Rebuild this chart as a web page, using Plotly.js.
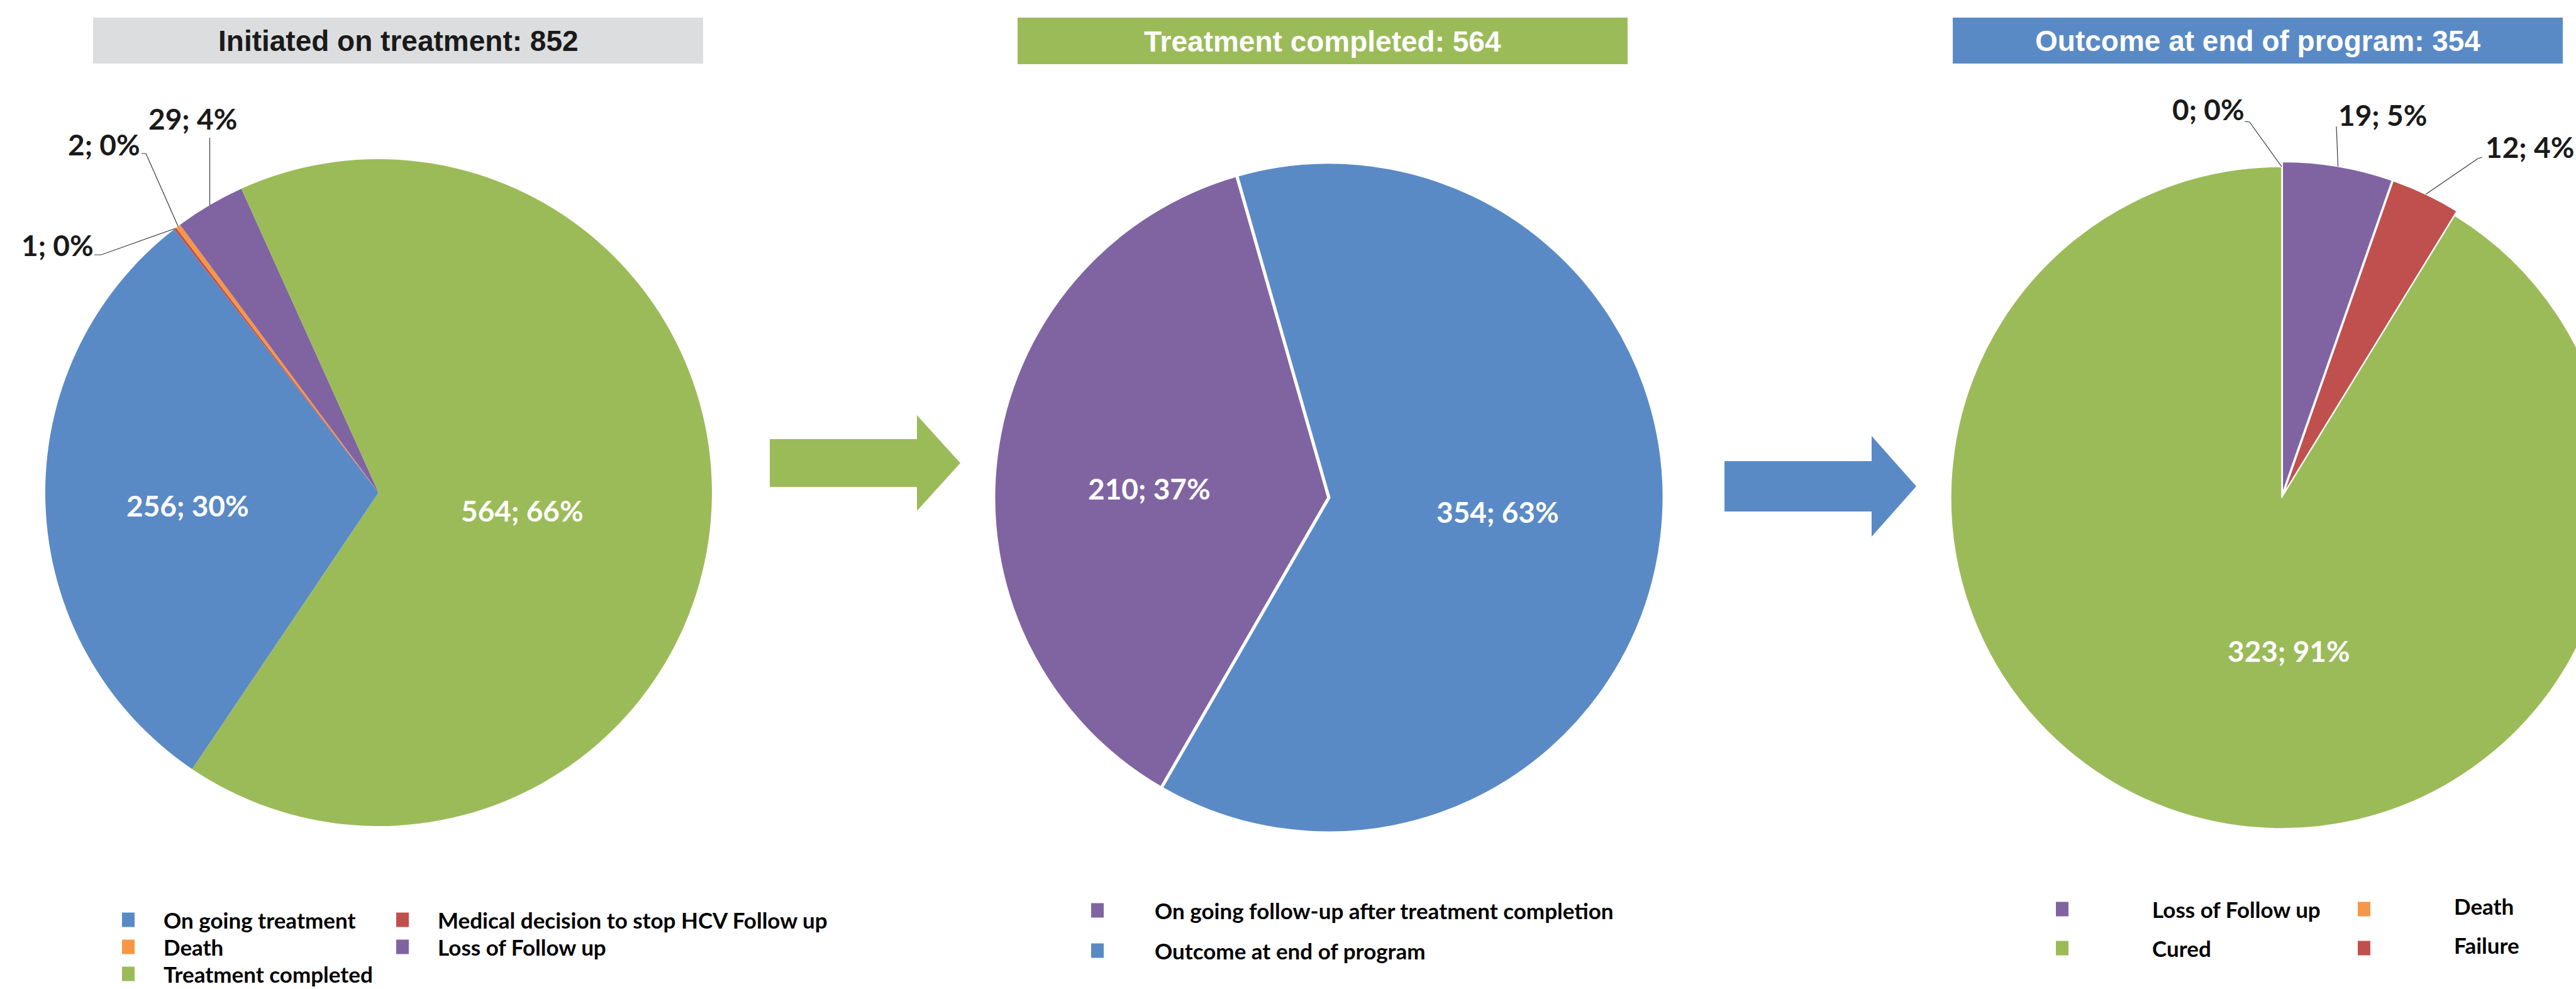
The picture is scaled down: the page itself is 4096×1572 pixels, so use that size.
<!DOCTYPE html>
<html>
<head>
<meta charset="utf-8">
<script src="https://cdn.plot.ly/plotly-3.0.1.min.js"></script>
<style>
  html, body { margin: 0; padding: 0; background: #ffffff; overflow: hidden; }
  #frame { width: 4096px; height: 1572px; overflow: hidden; position: relative; }
  #chart { width: 4200px; height: 1572px; }
</style>
</head>
<body>
<div id="frame"><div id="chart"></div></div>
<script>
// ---- Data ---------------------------------------------------------------
const stageTitles = ['Initiated on treatment', 'Treatment completed', 'Outcome at end of program'];

// Stage 1: every patient who started treatment
const startLabels = ['On going treatment', 'Medical decision to stop HCV Follow up', 'Death', 'Loss of Follow up', 'Treatment completed'];
const startValues = [256, 1, 2, 29, 564];
const startShares = [30, 0, 0, 4, 66];

// Stage 2: patients who completed treatment
const completedLabels = ['On going follow-up after treatment completion', 'Outcome at end of program'];
const completedValues = [210, 354];
const completedShares = [37, 63];

// Stage 3: outcome at the end of the program
const outcomeLabels = ['Death', 'Loss of Follow up', 'Failure', 'Cured'];
const outcomeValues = [0, 19, 12, 323];
const outcomeShares = [0, 5, 4, 91];
const outcomeLegendOrder = ['Loss of Follow up', 'Death', 'Cured', 'Failure'];

// ---- Styling ------------------------------------------------------------
const BLUE = '#5A8AC6', GREEN = '#9BBB59', PURPLE = '#8064A2', RED = '#C0504D', ORANGE = '#F79646', GREY = '#DCDDDF';
const colorOf = {
  'On going treatment': BLUE,
  'Medical decision to stop HCV Follow up': RED,
  'Death': ORANGE,
  'Loss of Follow up': PURPLE,
  'Treatment completed': GREEN,
  'On going follow-up after treatment completion': PURPLE,
  'Outcome at end of program': BLUE,
  'Failure': RED,
  'Cured': GREEN
};

const W = 4200, H = 1572;                 // canvas; the frame shows the left 4096 px
const X = v => v / W;
const Y = v => 1 - v / H;

const LABEL_FONT = 'Lato, "Open Sans", Arial, sans-serif';
const TITLE_FONT = '"Liberation Sans", Arial, sans-serif';

// pie geometry in canvas pixels
const geom = [
  { cx: 602,  cy: 783, r: 530, rotation: 214, edge: 0,   pull: null },
  { cx: 2113, cy: 791, r: 533, rotation: 210, edge: 5,   pull: null },
  { cx: 3628, cy: 791, r: 526, rotation: 0,   edge: 1.5, pull: [0, 0.015, 0.015, 0] }
];

function sum(a) { return a.reduce((s, v) => s + v, 0); }
function maxPull(g) { return g.pull ? Math.max.apply(null, g.pull) : 0; }

function domainOf(g) {
  const h = g.r * (1 + maxPull(g));
  return { x: [X(g.cx - h - 20), X(g.cx + h + 20)], y: [Y(g.cy + h), Y(g.cy - h)] };
}

// clockwise slice angles (degrees from 12 o'clock), same layout as the pie trace
function sliceAngles(values, rotation) {
  const total = sum(values);
  let a = rotation;
  return values.map(v => {
    const s = a; a += 360 * v / total;
    return { start: s, stop: a, mid: (s + a) / 2 };
  });
}
function edgePoint(g, deg, grow) {
  const t = deg * Math.PI / 180, R = g.r * (1 + (grow || 0));
  return [g.cx + R * Math.sin(t), g.cy - R * Math.cos(t)];
}

// ---- Traces -------------------------------------------------------------
function pieTrace(labels, values, g) {
  return {
    type: 'pie', labels: labels, values: values,
    sort: false, direction: 'clockwise', rotation: g.rotation,
    pull: g.pull || 0,
    marker: { colors: labels.map(l => colorOf[l]), line: { color: '#ffffff', width: g.edge } },
    textinfo: 'none', hoverinfo: 'label+value+percent',
    domain: domainOf(g), showlegend: false
  };
}

const traces = [
  pieTrace(startLabels, startValues, geom[0]),
  pieTrace(completedLabels, completedValues, geom[1]),
  pieTrace(outcomeLabels, outcomeValues, geom[2])
];

// ---- Decorations --------------------------------------------------------
const shapes = [];
const annotations = [];

// stage header boxes
const headers = [
  { x0: 148,  x1: 1118, y0: 28, y1: 101, fill: GREY,  color: '#1a1a1a' },
  { x0: 1618, x1: 2588, y0: 28, y1: 102, fill: GREEN, color: '#ffffff' },
  { x0: 3105, x1: 4075, y0: 28, y1: 101, fill: BLUE,  color: '#ffffff' }
];
const stageTotals = [sum(startValues), sum(completedValues), sum(outcomeValues)];
headers.forEach((h, i) => {
  shapes.push({ type: 'rect', xref: 'paper', yref: 'paper',
    x0: X(h.x0), x1: X(h.x1), y0: Y(h.y1), y1: Y(h.y0),
    fillcolor: h.fill, line: { width: 0 }, layer: 'below' });
  annotations.push({ xref: 'paper', yref: 'paper', x: X((h.x0 + h.x1) / 2), y: Y((h.y0 + h.y1) / 2 + 1),
    xanchor: 'center', yanchor: 'middle', showarrow: false,
    text: stageTitles[i] + ': ' + stageTotals[i],
    font: { family: TITLE_FONT, size: 46, color: h.color, weight: 700 } });
});

// flow arrows between the stages
function arrowPath(x0, x1, tip, yc, shaftHalf, headHalf) {
  const p = [[x0, yc - shaftHalf], [x1, yc - shaftHalf], [x1, yc - headHalf], [tip, yc],
             [x1, yc + headHalf], [x1, yc + shaftHalf], [x0, yc + shaftHalf]];
  return 'M' + p.map(q => X(q[0]) + ',' + Y(q[1])).join('L') + 'Z';
}
shapes.push({ type: 'path', xref: 'paper', yref: 'paper', path: arrowPath(1224, 1458, 1527, 736, 38, 76),
  fillcolor: GREEN, line: { width: 0 } });
shapes.push({ type: 'path', xref: 'paper', yref: 'paper', path: arrowPath(2742, 2976, 3047, 773, 40, 80),
  fillcolor: BLUE, line: { width: 0 } });

// slice labels "value; share%"
function sliceLabels(values, shares, g, placements) {
  const ang = sliceAngles(values, g.rotation);
  placements.forEach(p => {
    const i = p.i;
    const inside = !p.leader;
    annotations.push({ xref: 'paper', yref: 'paper', x: X(p.at[0]), y: Y(p.at[1]),
      xanchor: 'center', yanchor: 'middle', showarrow: false,
      text: values[i] + '; ' + shares[i] + '%',
      font: { family: LABEL_FONT, size: 46, color: inside ? '#ffffff' : '#1a1a1a', weight: 700 } });
    if (!inside) {
      const grow = g.pull ? g.pull[i] : 0;
      const tip = edgePoint(g, values[i] === 0 ? ang[i].start : ang[i].mid, grow);
      const pts = p.leader.map(q => [q[0] === null ? tip[0] : q[0], q[1]]).concat([tip]);
      shapes.push({ type: 'path', xref: 'paper', yref: 'paper',
        path: 'M' + pts.map(q => X(q[0]) + ',' + Y(q[1])).join('L'),
        line: { color: '#3a3a3a', width: 1.2 } });
    }
  });
}

sliceLabels(startValues, startShares, geom[0], [
  { i: 0, at: [298, 803] },
  { i: 4, at: [830, 811] },
  { i: 1, at: [91, 389],  leader: [[150, 405], [161, 405]] },
  { i: 2, at: [165, 229], leader: [[225, 244], [232, 244]] },
  { i: 3, at: [306, 188], leader: [[null, 219]] }
]);
sliceLabels(completedValues, completedShares, geom[1], [
  { i: 0, at: [1827, 777] },
  { i: 1, at: [2381, 813] }
]);
sliceLabels(outcomeValues, outcomeShares, geom[2], [
  { i: 3, at: [3639, 1034] },
  { i: 0, at: [3511, 173], leader: [[3569, 193], [3577, 194]] },
  { i: 1, at: [3788, 183], leader: [[3715, 201]] },
  { i: 2, at: [4022, 234], leader: [[3947, 250], [3940, 252]] }
]);

// legends: colour swatch + category name, laid out row by row
function legend(labels, opt) {
  labels.forEach((lab, k) => {
    const col = k % opt.cols, row = Math.floor(k / opt.cols);
    const cx = opt.x + col * opt.colPitch, cy = opt.y + row * opt.rowPitch;
    shapes.push({ type: 'rect', xref: 'paper', yref: 'paper',
      x0: X(cx - 10), x1: X(cx + 10), y0: Y(cy + 11.5), y1: Y(cy - 11.5),
      fillcolor: colorOf[lab], line: { width: 0 } });
    annotations.push({ xref: 'paper', yref: 'paper',
      x: X(cx + opt.gap), y: Y(cy + (opt.dy ? opt.dy[col] : 0)),
      xanchor: 'left', yanchor: 'middle', showarrow: false, text: lab,
      font: { family: LABEL_FONT, size: 35, color: '#000000', weight: 700 } });
  });
}
legend(startLabels,      { x: 204,  y: 1462, cols: 2, colPitch: 436, rowPitch: 43, gap: 54 });
legend(completedLabels,  { x: 1745, y: 1447, cols: 1, colPitch: 0,   rowPitch: 64, gap: 89 });
legend(outcomeLegendOrder, { x: 3279, y: 1445, cols: 2, colPitch: 480, rowPitch: 62, gap: 141, dy: [0, -5] });

// ---- Layout -------------------------------------------------------------
const layout = {
  width: W, height: H,
  margin: { l: 0, r: 0, t: 0, b: 0, pad: 0 },
  paper_bgcolor: '#ffffff', plot_bgcolor: '#ffffff',
  showlegend: false,
  shapes: shapes,
  annotations: annotations
};

Plotly.newPlot('chart', traces, layout, { displayModeBar: false, staticPlot: true });
</script>
</body>
</html>
